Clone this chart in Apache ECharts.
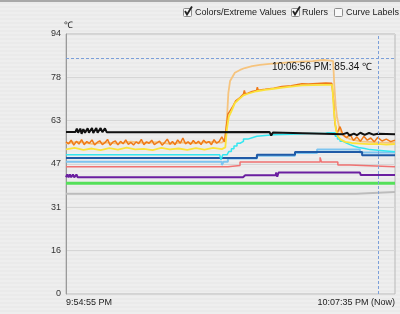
<!DOCTYPE html>
<html>
<head>
<meta charset="utf-8">
<script src="https://cdn.jsdelivr.net/npm/echarts@6/dist/echarts.min.js"></script>
<style>
html, body { margin: 0; padding: 0; background: #ececec; }
#chart { width: 400px; height: 314px; }
</style>
</head>
<body>
<div id="chart"></div>
<script>
/******************** data: [seconds since 9:54:55 PM, ℃] ********************/
var xLabels = ['9:54:55 PM', '10:07:35 PM (Now)'];
var xLabelPos = [0, 760];
var rulerTime = 721, rulerValue = 85.34;
var rulerText = '10:06:56 PM: 85.34 ℃';

var black = [[0,58.6],[22,58.6],[25,59.8],[28,58.3],[33,59.8],[36,57.9],[40,59.6],[44,58.3],[50,59.9],[53,58.3],
  [60,60],[63,58.2],[70,60],[73,58.3],[80,60],[84,58.5],[90,59.9],[94,58.5],[470,58.6],[474,57.3],[478,58.4],
  [482,57.8],[640,57.8],[650,58.3],[655,57.3],[665,58],[672,57.4],[680,58.3],[690,57.5],[700,58.2],[710,57.6],
  [720,57.9],[760,57.8]];

var orange = [[0,55.0],[6,54.3],[12,55.6],[18,53.8],[24,55.2],[30,54.2],[36,55.8],[42,54.0],[48,55.1],[54,54.5],
  [60,55.7],[66,53.9],[72,54.8],[78,55.4],[84,54.0],[90,54.7],[96,55.9],[102,53.8],[108,54.9],[114,55.3],
  [120,53.9],[126,55.2],[132,54.3],[138,55.7],[144,54.1],[150,54.8],[156,53.9],[162,55.0],[168,54.4],[174,55.9],
  [180,54.0],[186,55.0],[192,54.5],[198,55.6],[204,54.0],[210,54.6],[216,55.3],[222,53.8],[228,54.8],[234,56.0],
  [240,54.2],[246,55.1],[252,54.0],[258,55.7],[264,54.5],[270,56.4],[276,54.3],[282,55.0],[288,54.1],[294,55.5],
  [300,54.4],[306,55.2],[312,54.0],[318,55.6],[324,54.6],[330,55.1],[336,54.0],[342,55.8],[348,54.5],[354,55.2],
  [360,56.8],[366,55.0],[370,60],[374,65],[380,66.5],
  [386,68],[392,69.8],[402,71],[410,72.3],[412,73.6],[414,72.4],[420,72.6],[430,73.2],[440,73.6],[442,74.8],
  [444,73.7],[460,74.0],[480,74.4],[499,75.0],[520,75.3],[545,76.0],[560,75.9],[580,76.1],[600,76.3],[614,76.2],
  [618,70],[621,62],[626,58],[633,60.5],[640,57.5],[648,56.5],[656,57.8],[664,55.5],[672,56.8],[680,55.2],
  [688,57.0],[696,55.6],[704,56.4],[712,55.0],[720,56.6],[730,55.3],[740,56.0],[750,55.1],[760,55.6]];

var yellow = [[0,52.3],[20,52.8],[40,52.1],[60,52.6],[80,52.0],[100,52.7],[120,52.2],[140,52.9],[160,52.3],
  [180,52.5],[200,52.0],[220,52.8],[240,52.3],[260,52.6],[280,52.1],[300,52.7],[320,52.2],[340,52.8],[360,52.4],
  [368,53],[372,60],[376,64],[382,66],[390,69],[400,70.5],[410,71.8],[420,72.4],[440,73.3],[460,73.8],[480,74.2],
  [500,74.6],[520,75],[545,75.4],[570,75.5],[600,75.6],[615,75.6],[619,66],[623,60],[628,57],[635,55.8],
  [645,55],[660,54.6],[680,54.4],[700,54.2],[720,54.3],[740,54],[760,54.2]];

var peach = [[0,54.5],[30,55.0],[60,54.3],[90,54.8],[120,54.4],[150,55.1],[180,54.6],[210,54.9],[240,54.3],
  [270,54.8],[300,54.5],[330,55.0],[360,54.7],[368,56],[372,64],[375,72.6],[379,77],[390,80],[402,81],[413,81.7],
  [430,82.4],[448,82.8],[470,83.2],[494,83.5],[520,83.8],[541,84],[570,84.2],[595,84.6],[610,84.4],[617,84.2],
  [620,75],[623,68],[626,64],[633,59],[644,57],[656,56],[680,55.2],[720,54.8],[760,54.6]];

var cyan = [[0,50.3],[355,50.3],[358,48.5],[362,50.3],[372,50.3],[376,51.5],[382,52.5],[388,53.5],[395,54.5],
  [402,55.2],[410,56],[420,56.5],[430,57],[441,57.3],[460,57.6],[480,57.8],[520,58],[560,58.1],[600,58.3],
  [605,59],[608,58.3],[617,58.3],[622,57],[627,56],[633,55.2],[640,54.6],[648,54],[656,53.4],[666,53],[676,52.6],
  [690,52.2],[702,52],[720,51.7],[740,51.4],[760,51.3]];

var darkBlue = [[0,49.2],[441,50.3],[529,51.3],[684,50.2],[760,50.2]];
var lightBlue = [[0,47.8],[360,46.6],[364,47.8],[374,49],[441,50],[529,51],[580,52.2],[679,51.2],[760,51.2]];
var salmon = [[0,46],[374,46.5],[402,47.7],[587,49.4],[590,47.7],[628,46.6],[656,46],[760,46]];
var purple = [[0,42.2],[3,43.2],[6,42.2],[9,43.2],[12,42.2],[16,43.2],[19,42.2],[24,43.2],[27,42.2],
  [409,42.2],[409,42.9],[411,41.8],[414,42.9],[485,42.9],[485,43.9],[488,42.4],[491,43.9],[679,43.9],
  [681,43.0],[760,43.0]];
var green = [[0,40],[760,40]];
var grey = [[0,36.2],[670,36.2],[674,36.9],[760,36.9]];

/******************** chart ********************/
var stripe = document.createElement('canvas');
stripe.width = 4; stripe.height = 4;
var sctx = stripe.getContext('2d');
sctx.fillStyle = '#eeeeee'; sctx.fillRect(0, 0, 4, 4);
sctx.fillStyle = '#eaeaea'; sctx.fillRect(0, 2, 4, 2);

var chart = echarts.init(document.getElementById('chart'));
var FONT = 'Liberation Sans';

function line(data, color, width, step) {
  return {type: 'line', data: data, symbol: 'none', step: step || false, silent: true,
    lineStyle: {color: color, width: width}, itemStyle: {color: color}};
}

function checkbox(x, checked) {
  var items = [{type: 'rect', left: x, top: 8, shape: {width: 8, height: 8, r: 1},
    style: {fill: '#f8f8f8', stroke: '#8c8c8c', lineWidth: 1}}];
  if (checked) {
    items.push({type: 'polyline', shape: {points: [[x + 2, 11], [x + 4, 14.5], [x + 9, 6.5]]},
      style: {stroke: '#222', lineWidth: 1.8, fill: null}});
  }
  return items;
}

var headerText = function (x, text) {
  return {type: 'text', left: x, top: 8, style: {text: text, fill: '#222', font: '9px ' + FONT}};
};

var blackSeries = line(black, '#111111', 2);
blackSeries.markLine = {
  silent: true, symbol: 'none', label: {show: false},
  lineStyle: {color: '#7b9fd9', type: [3, 2], width: 1},
  data: [{xAxis: rulerTime}, {yAxis: rulerValue}]
};
blackSeries.markPoint = {
  silent: true, symbolSize: 0,
  data: [{coord: [rulerTime, rulerValue]}],
  label: {show: true, position: 'left', offset: [-1, 9], formatter: rulerText,
    color: '#111', fontSize: 10, fontFamily: FONT}
};

var option = {
  animation: false,
  backgroundColor: {image: stripe, repeat: 'repeat'},
  grid: {left: 66, right: 5, top: 34, bottom: 20, show: true, borderColor: '#b8b8b8', borderWidth: 1,
    backgroundColor: 'transparent'},
  xAxis: {
    type: 'value', min: 0, max: 760,
    axisLine: {show: false}, axisTick: {show: false}, splitLine: {show: false},
    axisLabel: {
      customValues: xLabelPos, margin: 4, fontSize: 9, fontFamily: FONT, color: '#222',
      alignMinLabel: 'left', alignMaxLabel: 'right',
      formatter: function (v) { return xLabels[xLabelPos.indexOf(v)]; }
    }
  },
  yAxis: {
    type: 'value', min: 0, max: 94, interval: 94 / 6,
    name: '℃', nameLocation: 'end', nameGap: 3,
    nameTextStyle: {align: 'left', fontSize: 9, fontFamily: FONT, color: '#222', padding: [0, 0, 0, -2]},
    axisLine: {show: true, lineStyle: {color: '#9a9a9a'}}, axisTick: {show: false},
    splitLine: {lineStyle: {color: '#d6d6d6'}},
    axisLabel: {margin: 5, fontSize: 9, fontFamily: FONT, color: '#333',
      formatter: function (v) { return Math.round(v); }}
  },
  graphic: [
    {type: 'rect', left: 0, top: 0, shape: {width: 400, height: 2}, style: {fill: '#a8a8a8'}},
    headerText(195, 'Colors/Extreme Values'),
    headerText(302, 'Rulers'),
    headerText(346, 'Curve Labels')
  ].concat(checkbox(183, true), checkbox(291, true), checkbox(334, false)),
  series: [
    line(grey, '#bcbcbc', 2),
    line(green, '#55e05a', 3),
    line(purple, '#6a1fa0', 2),
    line(salmon, '#f07272', 1.5, 'end'),
    line(lightBlue, '#7cc4f0', 2, 'end'),
    line(darkBlue, '#1f5aa6', 2, 'end'),
    line(cyan, '#33e6f0', 1.5, 'end'),
    line(peach, '#f6c47e', 1.8),
    line(orange, '#f07a18', 1.5),
    line(yellow, '#fbe23a', 1.8),
    blackSeries
  ]
};
chart.setOption(option);
</script>
</body>
</html>
